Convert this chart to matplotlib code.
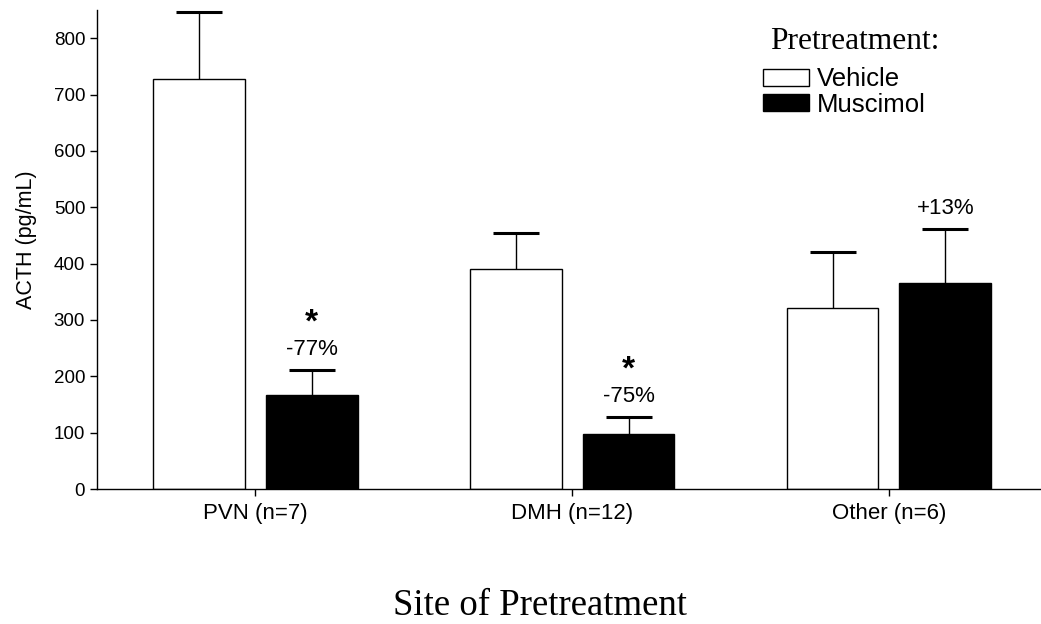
import matplotlib as mpl
import matplotlib.pyplot as plt
import numpy as np
from matplotlib.patches import Patch

mpl.rcParams['font.family'] = 'Liberation Sans'
mpl.rcParams['axes.linewidth'] = 1.0

sites = ['PVN (n=7)', 'DMH (n=12)', 'Other (n=6)']
vehicle = [727, 390, 322]
vehicle_sem = [120, 65, 98]
muscimol = [167, 97, 365]
muscimol_sem = [44, 31, 96]
pct_labels = ['-77%', '-75%', '+13%']
signif = [True, True, False]

fig = plt.figure(figsize=(10.41, 6.24), dpi=100)
ax = fig.add_axes([0.0932, 0.2163, 0.9068, 0.7677])

x = np.arange(len(sites))
w = 0.29
off = 0.178

ax.bar(x - off, vehicle, w, color='white', edgecolor='black', linewidth=1.0, zorder=2)
ax.bar(x + off, muscimol, w, color='black', edgecolor='black', linewidth=1.0, zorder=2)
for xs, ys, es in [(x - off, vehicle, vehicle_sem), (x + off, muscimol, muscimol_sem)]:
    eb = ax.errorbar(xs, ys, yerr=[np.zeros(3), es], fmt='none', ecolor='black',
                     elinewidth=1.0, capsize=16.5, capthick=2.2, zorder=1)
    eb[1][0].set_visible(False)  # hide lower caps

for i in range(len(sites)):
    top = muscimol[i] + muscimol_sem[i]
    ax.text(x[i] + off, top + 36, pct_labels[i], ha='center', va='center', fontsize=16)
    if signif[i]:
        ax.text(x[i] + off, top + 83, '*', ha='center', va='center', fontsize=24, fontweight='bold')

ax.set_xlim(-0.5, 2.48)
ax.set_ylim(0, 850)
ax.set_yticks(np.arange(0, 801, 100))
ax.set_xticks(x)
ax.set_xticklabels(sites, fontsize=16)
ax.tick_params(axis='y', labelsize=13.5, length=5, width=1.0)
ax.tick_params(axis='x', length=5, width=1.0, pad=5)
ax.spines['top'].set_visible(False)
ax.spines['right'].set_visible(False)
ax.set_ylabel('ACTH (pg/mL)', fontsize=15.5)
ax.yaxis.set_label_coords(-0.064, 0.52)

handles = [Patch(facecolor='white', edgecolor='black', label='Vehicle'),
           Patch(facecolor='black', edgecolor='black', label='Muscimol')]
ax.legend(handles=handles, loc='upper left', bbox_to_anchor=(0.7055, 0.88),
          frameon=False, fontsize=18.5, handlelength=1.8, handleheight=0.65,
          labelspacing=0.05, handletextpad=0.3, borderpad=0, borderaxespad=0)
ax.text(0.803, 0.935, 'Pretreatment:', transform=ax.transAxes, ha='center', va='center',
        family='Liberation Serif', fontsize=22.7)

fig.text(0.519, 0.03, 'Site of Pretreatment', ha='center', va='center',
         family='Liberation Serif', fontsize=26.5)

plt.savefig('out.png', dpi=100)
